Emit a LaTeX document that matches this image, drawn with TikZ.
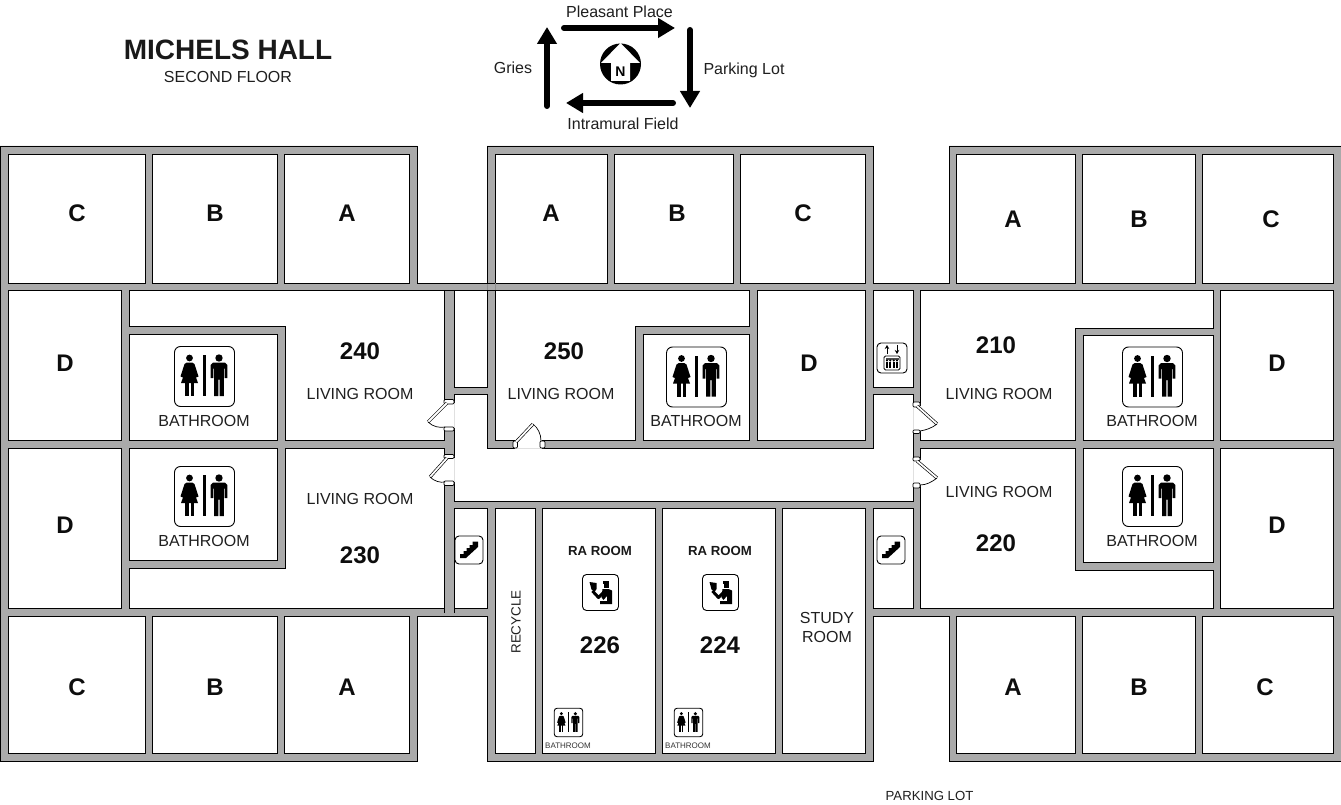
\documentclass[tikz,border=0pt]{standalone}
\usepackage{fontspec}
\setmainfont{Liberation Sans}
\usetikzlibrary{arrows.meta}
\definecolor{wallgray}{HTML}{AAAAAA}
\tikzset{
  wall/.style={draw=black,fill=wallgray,line width=.9},
  room/.style={draw=black,fill=white,line width=.9},
  gap/.style={fill=white,draw=none},
  doorcap/.style={draw=black,fill=white,line width=.7,rounded corners=1.2},
  leaf/.style={draw=black,double=white,double distance=1.8,line width=.65},
  swing/.style={draw=black,line width=.7},
  ink/.style={fill=black,draw=none},
  iconbox/.style={draw=black,fill=white,line width=.9},
  txt/.style={inner sep=0pt,font=\fontsize{16}{19}\selectfont,text=black!88,align=center},
  smalltxt/.style={inner sep=0pt,font=\fontsize{8}{9}\selectfont,text=black!80},
  ratxt/.style={inner sep=0pt,font=\fontsize{13.2}{15}\selectfont\bfseries,text=black!90},
  big/.style={inner sep=0pt,font=\fontsize{24}{28}\selectfont\bfseries,text=black!95},
  bigarrow/.style={line width=6,line cap=round,-{Triangle[length=17,width=19]}},
}
\newcommand{\wcicon}[3]{%
\begin{scope}[shift={(#1,#2)},scale=#3]
  \draw[iconbox,rounded corners=6pt*#3] (-30,-30) rectangle (30,30);
  \fill[ink] (-1.7,-21.5) rectangle (1.7,19.5);
  % woman
  \fill[ink] (-15,-18.5) circle (3.4);
  \fill[ink] (-18,-13.8) -- (-12,-13.8) -- (-10,-12.5) -- (-6,0) -- (-8.4,1) -- (-11.2,-6.5) -- (-6.5,6.5) -- (-23.5,6.5) -- (-18.8,-6.5) -- (-21.6,1) -- (-24,0) -- (-20,-12.5) -- cycle;
  \fill[ink] (-19.2,6) rectangle (-16,19.5);
  \fill[ink] (-14,6) rectangle (-10.8,19.5);
  % man
  \fill[ink] (14.5,-18.5) circle (3.7);
  \fill[ink] (8.5,-13.8) -- (20.5,-13.8) -- (22.8,-11.5) -- (22.8,1.5) -- (20.1,1.5) -- (20.1,-8) -- (19.4,-8) -- (19.4,19.5) -- (15.2,19.5) -- (15.2,3) -- (13.8,3) -- (13.8,19.5) -- (9.6,19.5) -- (9.6,-8) -- (8.9,-8) -- (8.9,1.5) -- (6.2,1.5) -- (6.2,-11.5) -- cycle;
\end{scope}}
\newcommand{\officon}[2]{%
\begin{scope}[shift={(#1,#2)}]
  \draw[iconbox,rounded corners=4pt] (-18,-18) rectangle (18,18);
  \fill[ink] (2,-11.5) rectangle (8.5,-9);
  \fill[ink] (3,-8.3) rectangle (8,-4.5);
  \fill[ink] (-11,-10.5) -- (-4,-9.5) -- (-4,-3.5) -- (-6,-.5) -- (-9,-3) -- cycle;
  \draw[line width=3,line join=round] (-8,-1.5) -- (-2,5) -- (3.5,-.5);
  \fill[ink] (2,-3.5) -- (8,-3.5) -- (11.5,-2) -- (11.5,11.5) -- (-.5,11.5) -- (-.5,8.5) -- (6.5,8.5) -- (6.5,3.5) -- (3,7.5) -- (1,5) -- cycle;
\end{scope}}
\newcommand{\stairicon}[2]{%
\begin{scope}[shift={(#1,#2)}]
  \draw[iconbox,rounded corners=4pt] (-14,-14) rectangle (14,14);
  \fill[ink] (-9,4) -- (-5.5,4) -- (-5.5,1) -- (-2.5,1) -- (-2.5,-2) -- (0.5,-2) -- (0.5,-5) -- (3.5,-5) -- (3.5,-8.5) -- (9,-8.5) -- (9,-3) -- (-3,8) -- (-9,8) -- cycle;
\end{scope}}
\begin{document}
\begin{tikzpicture}[x=1pt,y=-1pt]
\useasboundingbox (0,0) rectangle (1341,805);
\fill[white] (0,0) rectangle (1341,805);

% building mass
\path[wall] (0,146) -- (417,146) -- (417,283) -- (487,283) -- (487,146) -- (873,146) -- (873,283) -- (949,283) -- (949,146) -- (1341,146) -- (1341,761) -- (949,761) -- (949,616) -- (873,616) -- (873,761) -- (487,761) -- (487,616) -- (417,616) -- (417,761) -- (0,761) -- cycle;

% top row
\path[room] (8,154) rectangle (145,283);
\path[room] (152,154) rectangle (277,283);
\path[room] (284,154) rectangle (409,283);
\path[room] (495,154) rectangle (607,283);
\path[room] (614,154) rectangle (733,283);
\path[room] (740,154) rectangle (865,283);
\path[room] (956,154) rectangle (1075,283);
\path[room] (1082,154) rectangle (1195,283);
\path[room] (1202,154) rectangle (1333,283);
% lines through the wall crossing
\draw[black!45,line width=.7] (487,283) -- (487,290) (495,283) -- (495,290);
\draw[black,line width=.9] (417,283) -- (495,283) (409,290) -- (495,290);

% second row, left
\path[room] (8,290) rectangle (121,440);
\path[room] (129,290) -- (444,290) -- (444,440) -- (285,440) -- (285,326) -- (129,326) -- cycle;
\path[room] (129,334) rectangle (277,440);
% third row, left
\path[room] (8,448) rectangle (121,608);
\path[room] (129,448) rectangle (277,560);
\path[room] (285,448) -- (444,448) -- (444,608) -- (129,608) -- (129,568) -- (285,568) -- cycle;
% bottom row, left
\path[room] (8,616) rectangle (145,753);
\path[room] (152,616) rectangle (277,753);
\path[room] (284,616) rectangle (409,753);

% middle block
\path[room] (495,290) -- (749,290) -- (749,326) -- (635,326) -- (635,440) -- (495,440) -- cycle;
\path[room] (643,334) rectangle (749,440);
\path[room] (757,290) rectangle (865,440);
\path[room] (454,290) rectangle (487,387);
\path[room] (873,290) rectangle (913,387);
\path[room] (454,394) -- (487,394) -- (487,448) -- (873,448) -- (873,394) -- (913,394) -- (913,501) -- (454,501) -- cycle;
\path[room] (454,508) rectangle (487,608);
\path[room] (495,508) rectangle (535,753);
\path[room] (542,508) rectangle (655,753);
\path[room] (662,508) rectangle (775,753);
\path[room] (782,508) rectangle (865,753);
\path[room] (873,508) rectangle (913,608);
\draw[black,line width=.9] (444,608) -- (444,613) (454,608) -- (454,613);

% right block
\path[room] (920,290) -- (1213,290) -- (1213,328) -- (1075,328) -- (1075,440) -- (920,440) -- cycle;
\path[room] (1083,335) rectangle (1213,440);
\path[room] (1220,290) rectangle (1333,440);
\path[room] (920,448) -- (1075,448) -- (1075,570) -- (1213,570) -- (1213,608) -- (920,608) -- cycle;
\path[room] (1083,448) rectangle (1213,562);
\path[room] (1220,448) rectangle (1333,608);
\path[room] (956,616) rectangle (1075,753);
\path[room] (1082,616) rectangle (1195,753);
\path[room] (1202,616) rectangle (1333,753);

% door openings
\fill[gap] (443.4,403) rectangle (454.6,428);
\fill[gap] (443.4,458) rectangle (454.6,482);
\fill[gap] (515,439.5) rectangle (542,448.6);
\fill[gap] (912.4,406) rectangle (920.6,431);
\fill[gap] (912.4,460) rectangle (920.6,485);
\draw[black!12,line width=.6] (454,403) -- (454,428) (454,458) -- (454,482) (515,448) -- (542,448) (913,406) -- (913,431) (913,460) -- (913,485);

% door jambs
\path[doorcap] (444,399.5) rectangle (454,404);
\path[doorcap] (444,427) rectangle (454,431);
\path[doorcap] (444,454.5) rectangle (454,458.5);
\path[doorcap] (444,481) rectangle (454,485.5);
\path[doorcap] (513,441) rectangle (517.5,448);
\path[doorcap] (540,441) rectangle (545,448);
\path[doorcap] (913,402) rectangle (920,407);
\path[doorcap] (913,430) rectangle (920,433.5);
\path[doorcap] (913,457) rectangle (920,461);
\path[doorcap] (913,483) rectangle (920,488);

% door leaves
\draw[leaf] (447,403) -- (428,422);
\draw[swing] (428,422) .. controls (433,427) and (440,428) .. (445,427);
\draw[leaf] (447,458) -- (430,477);
\draw[swing] (430,477) .. controls (434,481) and (440,483) .. (445,482);
\draw[leaf] (516,442) -- (533,424);
\draw[swing] (533,424) .. controls (538,428) and (541,434) .. (541,441);
\draw[leaf] (917,406) -- (937,424);
\draw[swing] (937,424) .. controls (932,428) and (926,430) .. (920,431);
\draw[leaf] (917,461) -- (937,478);
\draw[swing] (937,478) .. controls (932,482) and (926,485) .. (920,485);

% bathroom icons
\wcicon{204.5}{376.5}{1}
\wcicon{696.5}{377}{1}
\wcicon{1152.5}{377}{1}
\wcicon{204.5}{496.5}{1}
\wcicon{1152.5}{496.5}{1}
\wcicon{568.5}{722.5}{0.475}
\wcicon{688.5}{722.5}{0.475}
% RA icons
\officon{600.5}{592.5}
\officon{720.5}{592.5}
% stairs
\stairicon{469}{550}
\stairicon{891}{550}
% elevator
\begin{scope}[shift={(892,358)}]
  \draw[iconbox,rounded corners=4pt] (-15,-15) rectangle (15,15);
  \draw[line width=.8,-{Stealth[length=4,width=4.5]}] (-5,-4) -- (-5,-13);
  \draw[line width=.8,-{Stealth[length=4,width=4.5]}] (5,-13) -- (5,-4);
  \draw[line width=.8,rounded corners=1.5pt] (-8,-2) rectangle (8,12);
  \fill[black!70] (-6.5,-.5) rectangle (6.5,2);
  \foreach \px in {-5,-1.7,1.7,5}{
    \fill[ink] (\px,2.5) circle (1.1);
    \fill[ink] (\px-1,3.5) rectangle (\px+1,10);
  }
\end{scope}

% compass
\coordinate (ppS) at (564,28);
\coordinate (ppE) at (675,28);
\coordinate (plS) at (690,30);
\coordinate (plE) at (690,108);
\coordinate (ifS) at (673,103);
\coordinate (ifE) at (566,103);
\coordinate (grS) at (547,106);
\coordinate (grE) at (547,27);
\draw[bigarrow] (ppS) -- (ppE);
\draw[bigarrow] (plS) -- (plE);
\draw[bigarrow] (ifS) -- (ifE);
\draw[bigarrow] (grS) -- (grE);
\fill[ink] (620.5,64) circle (20.5);
\fill[white] (620.5,43) -- (640,63) -- (630,63) -- (630,81) -- (611,81) -- (611,63) -- (601,63) -- cycle;
\node[inner sep=0pt,font=\fontsize{14}{14}\selectfont\bfseries] (nmark) at (620.5,72) {N};

% titles
\node[inner sep=0pt,font=\fontsize{28}{30}\selectfont\bfseries,text=black!90] (title) at (228,49.5) {MICHELS HALL};
\node[txt,font=\fontsize{16}{19}\selectfont] (subtitle) at (228,77) {SECOND FLOOR};
\node[txt] (pp) at (619.5,12) {Pleasant Place};
\node[txt] (gr) at (513,68) {Gries};
\node[txt] (pl) at (744,70) {Parking Lot};
\node[txt] (imf) at (623,124) {Intramural Field};
\node[txt,font=\fontsize{13.2}{15}\selectfont] (plot) at (929.5,796) {PARKING LOT};

% room letters
\node[big] (c1) at (77,213) {C};
\node[big] (b1) at (215,213) {B};
\node[big] (a1) at (347,213) {A};
\node[big] (a2) at (551,213) {A};
\node[big] (b2) at (677,213) {B};
\node[big] (c2) at (803,213) {C};
\node[big] (a3) at (1013,219) {A};
\node[big] (b3) at (1139,219) {B};
\node[big] (c3) at (1271,219) {C};
\node[big] (d1) at (65,363) {D};
\node[big] (d2) at (65,525) {D};
\node[big] (d3) at (809,363) {D};
\node[big] (d4) at (1277,363) {D};
\node[big] (d5) at (1277,525) {D};
\node[big] (c4) at (77,687) {C};
\node[big] (b4) at (215,687) {B};
\node[big] (a4) at (347,687) {A};
\node[big] (a5) at (1013,687) {A};
\node[big] (b5) at (1139,687) {B};
\node[big] (c5) at (1265,687) {C};

% numbers and labels
\node[big] (r240) at (360,351) {240};
\node[txt] (l240) at (360,394) {LIVING ROOM};
\node[txt] (w240) at (204,421) {BATHROOM};
\node[big] (r250) at (564,351) {250};
\node[txt] (l250) at (561,394) {LIVING ROOM};
\node[txt] (w250) at (696,421) {BATHROOM};
\node[big] (r210) at (996,345) {210};
\node[txt] (l210) at (999,394) {LIVING ROOM};
\node[txt] (w210) at (1152,421) {BATHROOM};
\node[big] (r230) at (360,555) {230};
\node[txt] (l230) at (360,499) {LIVING ROOM};
\node[txt] (w230) at (204,541) {BATHROOM};
\node[big] (r220) at (996,543) {220};
\node[txt] (l220) at (999,492) {LIVING ROOM};
\node[txt] (w220) at (1152,541) {BATHROOM};
\node[ratxt] (ra1) at (600,551) {RA ROOM};
\node[ratxt] (ra2) at (720,551) {RA ROOM};
\node[big] (r226) at (600,645) {226};
\node[big] (r224) at (720,645) {224};
\node[smalltxt] (w226) at (568,746) {BATHROOM};
\node[smalltxt] (w224) at (688,746) {BATHROOM};
\node[txt,font=\fontsize{13.4}{16}\selectfont,rotate=90] (rec) at (516,622) {RECYCLE};
\node[txt] (study) at (827,627) {STUDY\\ROOM};
\end{tikzpicture}
\end{document}
